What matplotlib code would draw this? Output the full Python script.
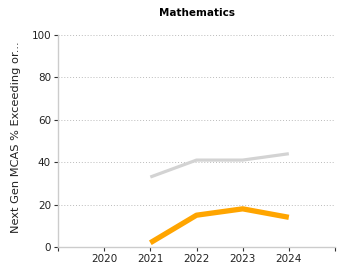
import matplotlib
matplotlib.use("Agg")
from matplotlib import pyplot as plt

# data
years = [2021, 2022, 2023, 2024]
state_pct = [33, 41, 41, 44]
school_pct = [2, 15, 18, 14]
xticks = [2019, 2020, 2021, 2022, 2023, 2024, 2025]
xlabels = ["", "2020", "2021", "2022", "2023", "2024", ""]
yticks = [0, 20, 40, 60, 80, 100]

fig = plt.figure(figsize=(3.5, 2.8), dpi=100)
ax = fig.add_axes([58 / 350, 33 / 280, 277 / 350, 212 / 280])

ax.plot(years, state_pct, color="#d3d3d3", lw=2.3, solid_capstyle="butt")
ax.plot(years, school_pct, color="#ffa500", lw=3.8, solid_capstyle="butt")

ax.set_xlim(2019, 2025)
ax.set_ylim(0, 100)
ax.set_xticks(xticks)
ax.set_xticklabels(xlabels)
ax.set_yticks(yticks)
ax.grid(axis="y", color="#bbbbbb", linestyle=(0, (1, 2)), linewidth=0.7)
ax.set_axisbelow(True)

for s in ["top", "right"]:
    ax.spines[s].set_visible(False)
for s in ["left", "bottom"]:
    ax.spines[s].set_color("#cccccc")
    ax.spines[s].set_linewidth(1)

ax.tick_params(axis="both", labelsize=7.5, labelcolor="#222222", color="#333333",
               length=3, width=0.8, pad=2)
ax.set_ylabel("Next Gen MCAS % Exceeding or...", fontsize=8.2, labelpad=5,
              color="#222222")
ax.yaxis.set_label_coords(-0.135, 0.52)
ax.set_title("Mathematics", fontsize=7.5, fontweight="bold", pad=14)

fig.savefig("out.png", dpi=100)
